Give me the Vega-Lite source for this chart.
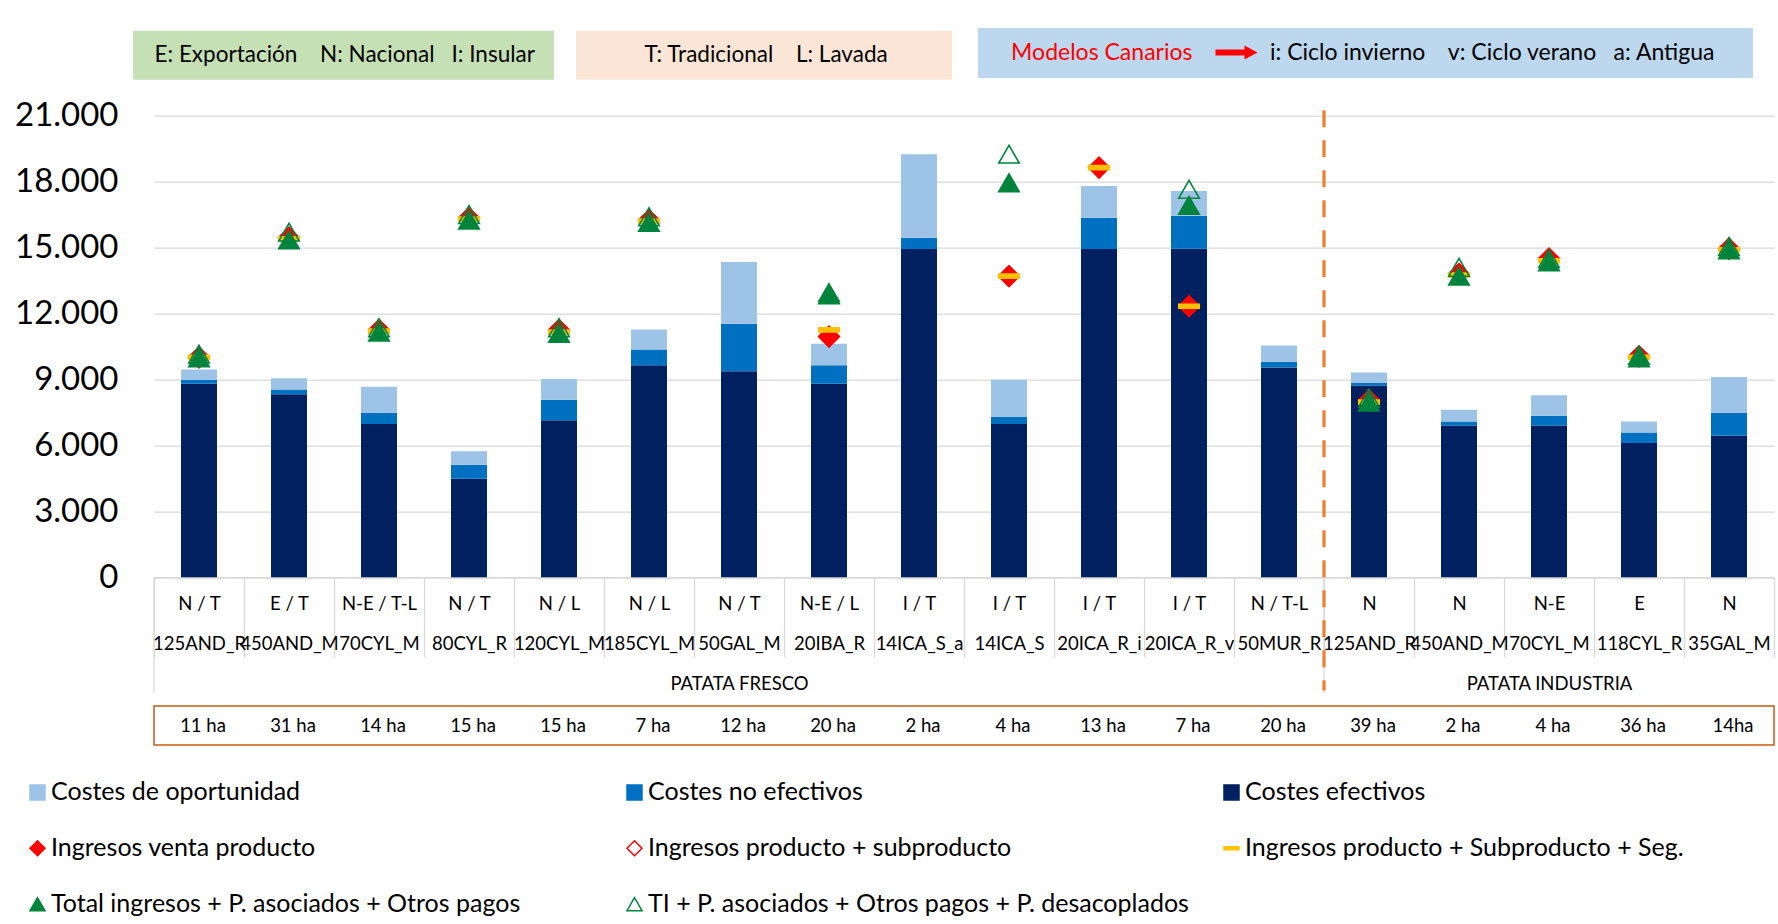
{
  "$schema": "https://vega.github.io/schema/vega-lite/v6.json",
  "width": 1620,
  "height": 461.5,
  "autosize": {"type": "none"},
  "padding": {"left": 154, "top": 115.7, "right": 4, "bottom": 346.8},
  "background": "#FFFFFF",
  "config": {
    "font": "Lato",
    "view": {"stroke": null},
    "locale": {"number": {"decimal": ",", "thousands": ".", "grouping": [3], "currency": ["", " €"]}}
  },
  "datasets": {
    "costes": [
      {"eje": "N / T|125AND_R", "ha": "11 ha", "efectivos": 8800, "no_efectivos": 190, "oportunidad": 460, "venta": 10000, "subproducto": 10000, "seguros": 10000, "total": 9980, "ti": 10150},
      {"eje": "E / T|450AND_M", "ha": "31 ha", "efectivos": 8320, "no_efectivos": 220, "oportunidad": 510, "venta": 15450, "subproducto": 15450, "seguros": 15400, "total": 15350, "ti": 15700},
      {"eje": "N-E / T-L|70CYL_M", "ha": "14 ha", "efectivos": 6970, "no_efectivos": 500, "oportunidad": 1200, "venta": 11250, "subproducto": 11250, "seguros": 11200, "total": 11150, "ti": 11350},
      {"eje": "N / T|80CYL_R", "ha": "15 ha", "efectivos": 4480, "no_efectivos": 640, "oportunidad": 610, "venta": 16350, "subproducto": 16350, "seguros": 16300, "total": 16250, "ti": 16500},
      {"eje": "N / L|120CYL_M", "ha": "15 ha", "efectivos": 7140, "no_efectivos": 940, "oportunidad": 940, "venta": 11250, "subproducto": 11250, "seguros": 11150, "total": 11100, "ti": 11350},
      {"eje": "N / L|185CYL_M", "ha": "7 ha", "efectivos": 9650, "no_efectivos": 710, "oportunidad": 910, "venta": 16250, "subproducto": 16250, "seguros": 16200, "total": 16150, "ti": 16400},
      {"eje": "N / T|50GAL_M|PATATA FRESCO", "ha": "12 ha", "efectivos": 9370, "no_efectivos": 2160, "oportunidad": 2810, "venta": null, "subproducto": null, "seguros": null, "total": null, "ti": null},
      {"eje": "N-E / L|20IBA_R", "ha": "20 ha", "efectivos": 8800, "no_efectivos": 850, "oportunidad": 970, "venta": 10950, "subproducto": 10950, "seguros": 11250, "total": 12850, "ti": 12950},
      {"eje": "I / T|14ICA_S_a", "ha": "2 ha", "efectivos": 14930, "no_efectivos": 520, "oportunidad": 3800, "venta": null, "subproducto": null, "seguros": null, "total": null, "ti": null},
      {"eje": "I / T|14ICA_S", "ha": "4 ha", "efectivos": 6970, "no_efectivos": 320, "oportunidad": 1700, "venta": 13700, "subproducto": 13700, "seguros": 13700, "total": 17950, "ti": 19250},
      {"eje": "I / T|20ICA_R_i", "ha": "13 ha", "efectivos": 14930, "no_efectivos": 1430, "oportunidad": 1440, "venta": 18640, "subproducto": 18640, "seguros": 18640, "total": null, "ti": null},
      {"eje": "I / T|20ICA_R_v", "ha": "7 ha", "efectivos": 14950, "no_efectivos": 1500, "oportunidad": 1120, "venta": 12330, "subproducto": 12330, "seguros": 12330, "total": 16920, "ti": 17650},
      {"eje": "N / T-L|50MUR_R", "ha": "20 ha", "efectivos": 9540, "no_efectivos": 250, "oportunidad": 750, "venta": null, "subproducto": null, "seguros": null, "total": null, "ti": null},
      {"eje": "N|125AND_R", "ha": "39 ha", "efectivos": 8720, "no_efectivos": 120, "oportunidad": 470, "venta": 8050, "subproducto": 8050, "seguros": 7970, "total": 7970, "ti": 8150},
      {"eje": "N|450AND_M", "ha": "2 ha", "efectivos": 6900, "no_efectivos": 190, "oportunidad": 530, "venta": 13800, "subproducto": 13800, "seguros": 13750, "total": 13700, "ti": 14100},
      {"eje": "N-E|70CYL_M|PATATA INDUSTRIA", "ha": "4 ha", "efectivos": 6900, "no_efectivos": 450, "oportunidad": 930, "venta": 14500, "subproducto": 14500, "seguros": 14400, "total": 14350, "ti": 14500},
      {"eje": "E|118CYL_R", "ha": "36 ha", "efectivos": 6110, "no_efectivos": 480, "oportunidad": 500, "venta": 10050, "subproducto": 10050, "seguros": 10000, "total": 9980, "ti": 10100},
      {"eje": "N|35GAL_M", "ha": "14ha", "efectivos": 6440, "no_efectivos": 1030, "oportunidad": 1640, "venta": 14950, "subproducto": 14950, "seguros": 14900, "total": 14900, "ti": 15050}
    ],
    "series": [
      {"clave": "efectivos", "serie": "Costes efectivos", "orden": 1},
      {"clave": "no_efectivos", "serie": "Costes no efectivos", "orden": 2},
      {"clave": "oportunidad", "serie": "Costes de oportunidad", "orden": 3},
      {"clave": "venta", "serie": "Ingresos venta producto", "orden": 4},
      {"clave": "subproducto", "serie": "Ingresos producto + subproducto", "orden": 5},
      {"clave": "seguros", "serie": "Ingresos producto + Subproducto + Seg.", "orden": 6},
      {"clave": "total", "serie": "Total ingresos + P. asociados + Otros pagos", "orden": 7},
      {"clave": "ti", "serie": "TI + P. asociados + Otros pagos + P. desacoplados", "orden": 8}
    ],
    "separadores": [
      {"eje": "N / T|125AND_R"},
      {"eje": "N|125AND_R"}
    ],
    "division": [
      {"eje": "N|125AND_R"}
    ],
    "caja": [
      {"desde": "N / T|125AND_R", "hasta": "N|35GAL_M"}
    ]
  },
  "data": {"name": "costes"},
  "layer": [
    {
      "data": {"name": "separadores"},
      "mark": {"type": "rule", "color": "#D9D9D9", "strokeWidth": 1.3},
      "encoding": {
        "x": {"field": "eje", "type": "nominal", "bandPosition": 0, "title": null},
        "y": {"datum": 0, "type": "quantitative", "title": null},
        "y2": {"datum": -5270}
      }
    },
    {
      "data": {"name": "caja"},
      "mark": {"type": "rect", "fill": "transparent", "stroke": "#C55A11", "strokeWidth": 1.5},
      "encoding": {
        "x": {"field": "desde", "type": "nominal", "bandPosition": 0, "title": null},
        "x2": {"field": "hasta", "bandPosition": 1},
        "y": {"datum": -5860, "type": "quantitative", "title": null},
        "y2": {"datum": -7636}
      }
    },
    {
      "mark": {"type": "text", "fontSize": 18.5, "color": "#000000", "baseline": "middle", "align": "center", "dx": 4},
      "encoding": {
        "x": {"field": "eje", "type": "nominal", "title": null},
        "y": {"datum": -6770, "type": "quantitative", "title": null},
        "text": {"field": "ha", "type": "nominal"}
      }
    },
    {
      "transform": [
        {"fold": ["efectivos", "no_efectivos", "oportunidad"], "as": ["clave", "valor"]},
        {"lookup": "clave", "from": {"data": {"name": "series"}, "key": "clave", "fields": ["serie", "orden"]}}
      ],
      "mark": {"type": "bar", "width": {"band": 0.4}},
      "encoding": {
        "x": {
          "field": "eje", "type": "nominal", "title": null,
          "scale": {
            "domain": ["N / T|125AND_R", "E / T|450AND_M", "N-E / T-L|70CYL_M", "N / T|80CYL_R", "N / L|120CYL_M", "N / L|185CYL_M", "N / T|50GAL_M|PATATA FRESCO", "N-E / L|20IBA_R", "I / T|14ICA_S_a", "I / T|14ICA_S", "I / T|20ICA_R_i", "I / T|20ICA_R_v", "N / T-L|50MUR_R", "N|125AND_R", "N|450AND_M", "N-E|70CYL_M|PATATA INDUSTRIA", "E|118CYL_R", "N|35GAL_M"],
            "paddingInner": 0, "paddingOuter": 0
          },
          "axis": {
            "labelExpr": "isValid(datum.value) ? split(datum.value, '|') : ''",
            "labelFontSize": 18.5, "labelLineHeight": 40, "labelPadding": -54, "labelAngle": 0, "labelAlign": "center",
            "labelColor": "#000000", "labelLimit": 400, "labelOverlap": false, "labelBound": false, "labelFlush": false,
            "tickBand": "extent", "ticks": true, "tickSize": 80, "tickColor": "#D9D9D9", "tickWidth": 1.3,
            "domain": true, "domainColor": "#D9D9D9", "domainWidth": 1.3, "grid": false, "title": null
          }
        },
        "y": {
          "field": "valor", "type": "quantitative", "stack": "zero", "title": null,
          "scale": {"domain": [0, 21000], "nice": false, "zero": true},
          "axis": {
            "values": [0, 3000, 6000, 9000, 12000, 15000, 18000, 21000],
            "format": ",.0f", "labelFontSize": 33, "labelPadding": 36, "labelColor": "#000000",
            "domain": false, "ticks": false, "grid": true, "gridColor": "#D9D9D9", "gridWidth": 1.3, "title": null
          }
        },
        "fill": {
          "field": "serie", "type": "nominal",
          "scale": {
            "domain": ["Costes de oportunidad", "Costes no efectivos", "Costes efectivos", "Ingresos venta producto", "Ingresos producto + subproducto", "Ingresos producto + Subproducto + Seg.", "Total ingresos + P. asociados + Otros pagos", "TI + P. asociados + Otros pagos + P. desacoplados"],
            "range": ["#9DC3E6", "#0070C0", "#002060", "#FF0000", "transparent", "#FFC000", "#00843D", "transparent"]
          },
          "legend": {"orient": "none", "direction": "horizontal", "legendX": -129, "legendY": 664, "padding": 0, "title": null, "columns": 3, "gridAlign": "all", "columnPadding": 30, "rowPadding": 30, "symbolSize": 225, "symbolStrokeWidth": 1.5, "labelFontSize": 25, "labelColor": "#000000", "labelOffset": 1, "labelLimit": 700}
        },
        "order": {"field": "orden", "type": "quantitative", "sort": "ascending"}
      }
    },
    {
      "transform": [
        {"fold": ["venta", "subproducto", "seguros", "total", "ti"], "as": ["clave", "valor"]},
        {"filter": {"field": "valor", "valid": true}},
        {"lookup": "clave", "from": {"data": {"name": "series"}, "key": "clave", "fields": ["serie", "orden"]}}
      ],
      "mark": {"type": "point", "filled": true, "size": 420, "strokeWidth": 1.6, "opacity": 1},
      "encoding": {
        "x": {"field": "eje", "type": "nominal", "title": null},
        "y": {"field": "valor", "type": "quantitative", "stack": null, "title": null},
        "fill": {
          "field": "serie", "type": "nominal",
          "scale": {
            "domain": ["Costes de oportunidad", "Costes no efectivos", "Costes efectivos", "Ingresos venta producto", "Ingresos producto + subproducto", "Ingresos producto + Subproducto + Seg.", "Total ingresos + P. asociados + Otros pagos", "TI + P. asociados + Otros pagos + P. desacoplados"],
            "range": ["#9DC3E6", "#0070C0", "#002060", "#FF0000", "transparent", "#FFC000", "#00843D", "transparent"]
          },
          "legend": {"orient": "none", "direction": "horizontal", "legendX": -129, "legendY": 664, "padding": 0, "title": null, "columns": 3, "gridAlign": "all", "columnPadding": 30, "rowPadding": 30, "symbolSize": 225, "symbolStrokeWidth": 1.5, "labelFontSize": 25, "labelColor": "#000000", "labelOffset": 1, "labelLimit": 700}
        },
        "stroke": {
          "field": "serie", "type": "nominal",
          "scale": {
            "domain": ["Costes de oportunidad", "Costes no efectivos", "Costes efectivos", "Ingresos venta producto", "Ingresos producto + subproducto", "Ingresos producto + Subproducto + Seg.", "Total ingresos + P. asociados + Otros pagos", "TI + P. asociados + Otros pagos + P. desacoplados"],
            "range": ["#9DC3E6", "#0070C0", "#002060", "#FF0000", "#FF0000", "#FFC000", "#00843D", "#00843D"]
          },
          "legend": {"orient": "none", "direction": "horizontal", "legendX": -129, "legendY": 664, "padding": 0, "title": null, "columns": 3, "gridAlign": "all", "columnPadding": 30, "rowPadding": 30, "symbolSize": 225, "symbolStrokeWidth": 1.5, "labelFontSize": 25, "labelColor": "#000000", "labelOffset": 1, "labelLimit": 700}
        },
        "shape": {
          "field": "serie", "type": "nominal",
          "scale": {
            "domain": ["Costes de oportunidad", "Costes no efectivos", "Costes efectivos", "Ingresos venta producto", "Ingresos producto + subproducto", "Ingresos producto + Subproducto + Seg.", "Total ingresos + P. asociados + Otros pagos", "TI + P. asociados + Otros pagos + P. desacoplados"],
            "range": ["square", "square", "square", "diamond", "diamond", "M-1,-0.2H1V0.2H-1Z", "triangle-up", "triangle-up"]
          },
          "legend": {"orient": "none", "direction": "horizontal", "legendX": -129, "legendY": 664, "padding": 0, "title": null, "columns": 3, "gridAlign": "all", "columnPadding": 30, "rowPadding": 30, "symbolSize": 225, "symbolStrokeWidth": 1.5, "labelFontSize": 25, "labelColor": "#000000", "labelOffset": 1, "labelLimit": 700}
        }
      }
    },
    {
      "data": {"name": "division"},
      "mark": {"type": "rule", "color": "#ED7D31", "strokeWidth": 3.2, "strokeDash": [17, 13]},
      "encoding": {
        "x": {"field": "eje", "type": "nominal", "bandPosition": 0, "title": null},
        "y": {"datum": 21250, "type": "quantitative", "title": null},
        "y2": {"datum": -5150}
      }
    },
    {
      "data": {"values": [{"texto": "E: Exportación\u2003 N: Nacional\u2002 I: Insular\u2009\u2009\u200b"}]},
      "mark": {"type": "point", "opacity": 0},
      "encoding": {
        "color": {
          "field": "texto", "type": "nominal", "scale": {"range": ["#C5E0B4"]},
          "legend": {"orient": "none", "legendX": -21, "legendY": -85, "title": null, "fillColor": "#C5E0B4", "padding": 13, "symbolSize": 0, "symbolOpacity": 0, "symbolStrokeWidth": 0, "labelOffset": -14, "labelFontSize": 22.5, "labelColor": "#000000", "labelLimit": 800}
        }
      }
    },
    {
      "data": {"values": [{"texto": "T: Tradicional\u2003 L: Lavada\u2003\u2003\u2002\u2009\u2009\u200b"}]},
      "mark": {"type": "point", "opacity": 0},
      "encoding": {
        "color": {
          "field": "texto", "type": "nominal", "scale": {"range": ["#FBE5D6"]},
          "legend": {"orient": "none", "legendX": 422, "legendY": -85, "title": null, "fillColor": "#FBE5D6", "padding": 13, "symbolSize": 0, "symbolOpacity": 0, "symbolStrokeWidth": 0, "labelOffset": 33, "labelFontSize": 22.5, "labelColor": "#000000", "labelLimit": 800}
        }
      }
    },
    {
      "data": {"values": [{"texto": "i: Ciclo invierno\u2003 v: Ciclo verano\u2002 a: Antigua\u2003\u2009\u2009\u200b"}]},
      "mark": {"type": "point", "filled": true, "opacity": 0},
      "encoding": {
        "color": {
          "field": "texto", "type": "nominal", "scale": {"range": ["#FF0000"]},
          "legend": {"orient": "none", "legendX": 824, "legendY": -87.7, "title": "\u200b\u2003\u2009Modelos Canarios", "titleOrient": "left", "titleColor": "#FF0000", "titleFontSize": 23, "titleFontWeight": "normal", "titlePadding": 32, "titleLimit": 400, "fillColor": "#BDD7EE", "padding": 13, "symbolType": "M-2.1,-0.3H0.8V-0.7L2.1,0L0.8,0.7V0.3H-2.1Z", "symbolSize": 400, "symbolOpacity": 1, "symbolFillColor": "#FF0000", "symbolStrokeWidth": 0, "labelOffset": 22, "labelFontSize": 23, "labelColor": "#000000", "labelLimit": 800}
        }
      }
    }
  ],
  "resolve": {"scale": {"color": "independent"}}
}
